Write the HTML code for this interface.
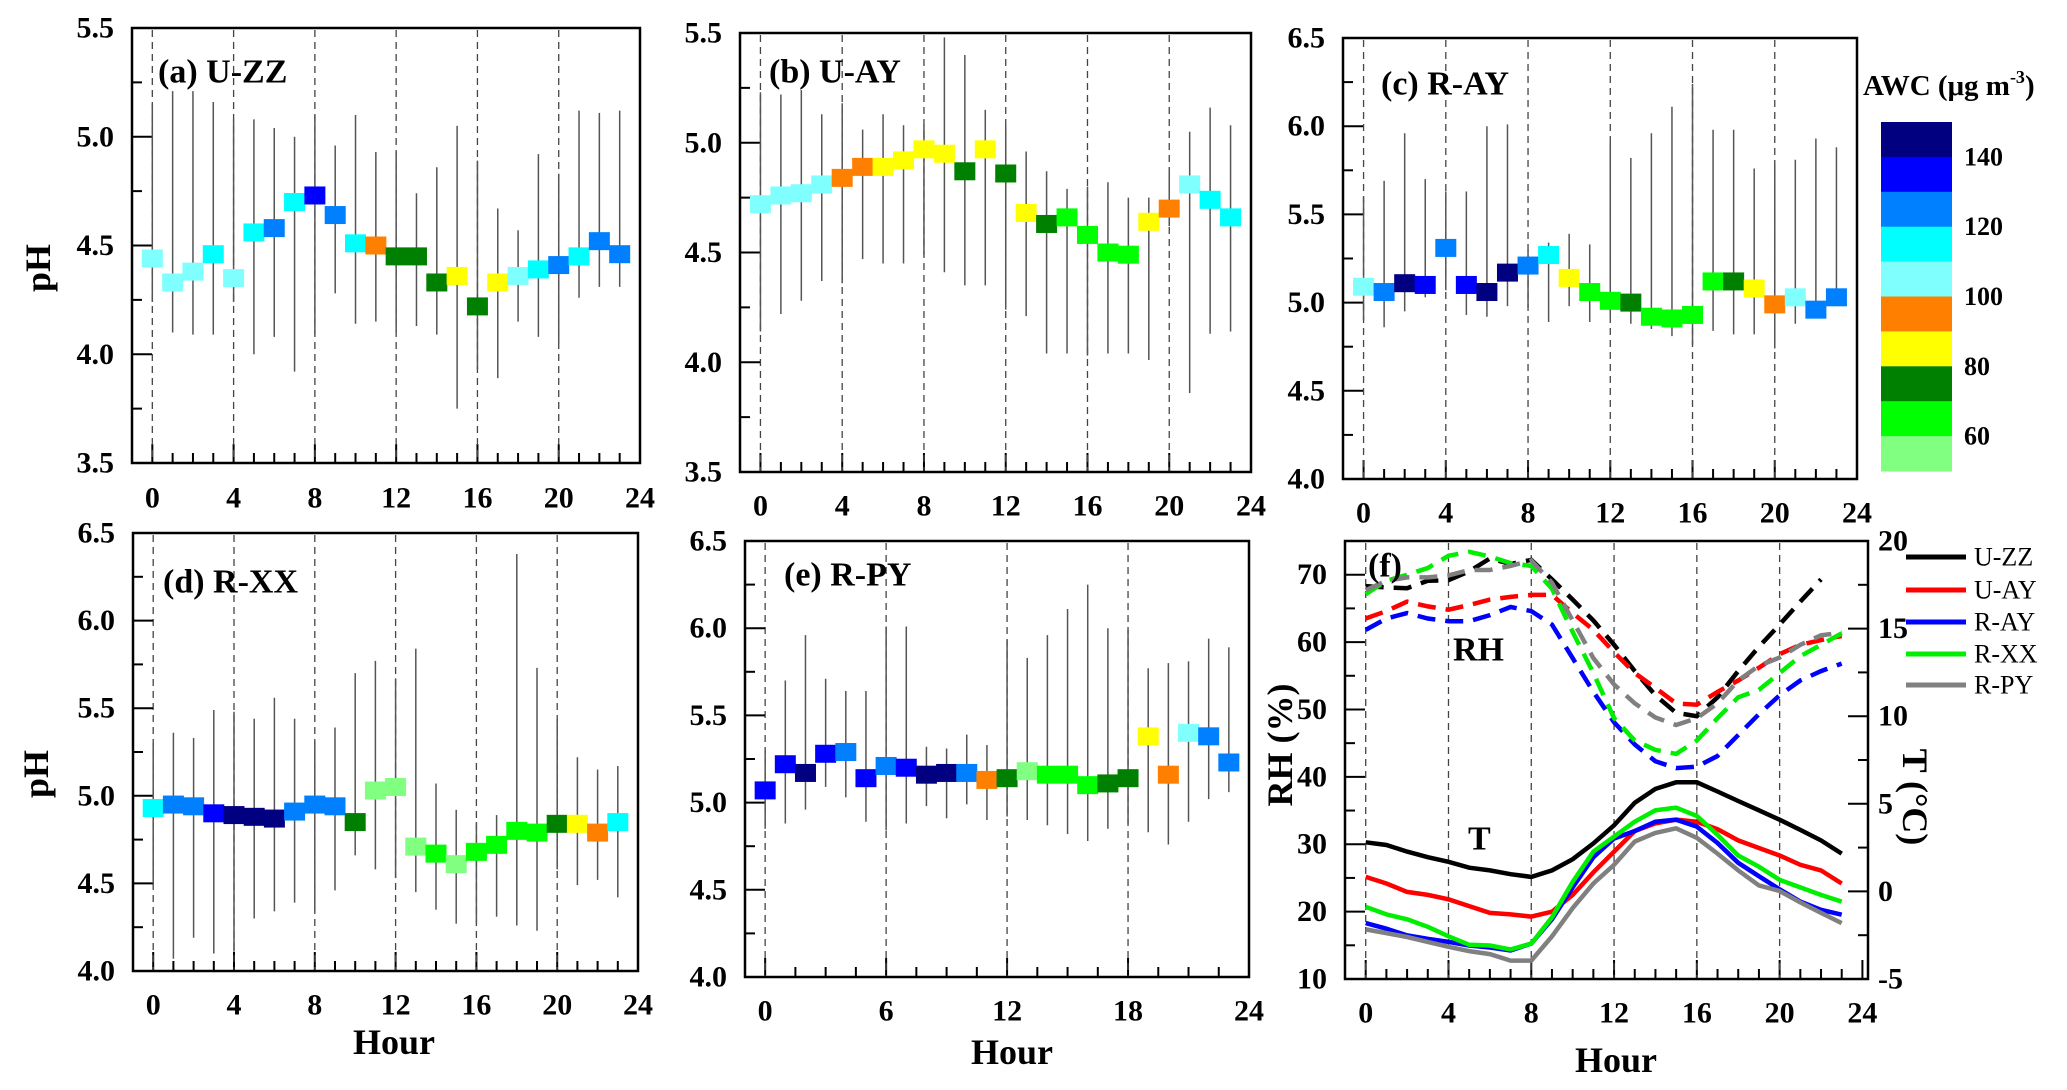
<!DOCTYPE html>
<html><head><meta charset="utf-8">
<style>
html,body{margin:0;padding:0;background:#fff;}
svg{display:block;font-family:"Liberation Serif",serif;}
</style></head>
<body>
<svg id="fig" width="2067" height="1090" viewBox="0 0 2067 1090" xmlns="http://www.w3.org/2000/svg"></svg>
<script>
// ---------- data ----------
const hours = [0,1,2,3,4,5,6,7,8,9,10,11,12,13,14,15,16,17,18,19,20,21,22,23];
const awcColors = ['#000080','#0000ff','#0080ff','#00ffff','#80ffff','#ff8000','#ffff00','#008000','#00ff00','#80ff80'];
const awcLabels = ['140','120','100','80','60'];

const phA = [4.44,4.33,4.38,4.46,4.35,4.56,4.58,4.70,4.73,4.64,4.51,4.50,4.45,4.45,4.33,4.36,4.22,4.33,4.36,4.39,4.41,4.45,4.52,4.46];
const hiA = [5.15,5.21,5.21,5.16,5.08,5.08,5.04,5.00,5.10,4.96,5.10,4.93,4.93,4.74,4.86,5.05,4.89,4.67,4.57,4.92,4.83,5.12,5.11,5.12];
const loA = [4.24,4.10,4.09,4.09,4.24,4.00,4.08,3.92,4.09,4.28,4.14,4.15,4.10,4.13,4.09,3.75,3.93,3.89,4.15,4.08,4.05,4.26,4.31,4.31];
const colA = [4,4,4,3,4,3,2,3,1,2,3,5,7,7,7,6,7,6,4,3,2,3,2,2];

const phB = [4.72,4.76,4.77,4.81,4.84,4.89,4.89,4.92,4.97,4.95,4.87,4.97,4.86,4.68,4.63,4.66,4.58,4.50,4.49,4.64,4.70,4.81,4.74,4.66];
const hiB = [5.23,5.22,5.24,5.13,5.18,5.06,5.13,5.08,5.08,5.48,5.40,5.15,5.08,4.96,4.87,4.79,4.80,4.82,4.75,4.75,4.88,5.05,5.16,5.08];
const loB = [4.14,4.22,4.28,4.37,4.36,4.47,4.45,4.45,4.49,4.41,4.35,4.35,4.24,4.21,4.04,4.04,4.03,4.04,4.04,4.01,4.62,3.86,4.13,4.14];
const colB = [4,4,4,4,5,5,6,6,6,6,7,6,7,6,7,8,8,8,8,6,5,4,3,3];

const phC = [5.09,5.06,5.11,5.10,5.31,5.10,5.06,5.17,5.21,5.27,5.14,5.06,5.01,5.00,4.92,4.91,4.93,5.12,5.12,5.08,4.99,5.03,4.96,5.03];
const hiC = [5.60,5.69,5.96,5.70,5.63,5.63,6.00,6.01,5.30,5.34,5.39,5.33,5.91,5.82,5.96,6.11,6.24,5.98,5.98,5.76,5.79,5.81,5.93,5.88];
const loC = [4.90,4.86,4.95,5.03,5.07,4.93,4.92,4.98,4.97,4.89,4.98,4.89,4.92,4.88,4.85,4.81,4.76,4.84,4.82,4.82,4.74,4.88,4.95,4.99];
const colC = [4,2,0,1,2,1,0,0,2,3,6,8,8,7,8,8,8,8,7,6,5,4,2,2];

const phD = [4.93,4.95,4.94,4.90,4.89,4.88,4.87,4.91,4.95,4.94,4.85,5.03,5.05,4.71,4.67,4.61,4.68,4.72,4.80,4.79,4.84,4.84,4.79,4.85];
const hiD = [5.30,5.36,5.33,5.49,5.48,5.44,5.56,5.44,5.31,5.39,5.70,5.77,5.67,5.84,5.07,4.92,4.85,4.89,6.38,5.73,5.44,5.22,5.15,5.17];
const loD = [4.50,4.07,4.19,4.10,4.11,4.30,4.34,4.39,4.34,4.46,4.66,4.58,4.53,4.45,4.35,4.27,4.27,4.31,4.26,4.23,4.58,4.49,4.52,4.42];
const colD = [3,2,2,1,0,0,0,2,2,2,7,9,9,9,8,9,8,8,8,8,7,6,5,3];

const phE = [5.07,5.22,5.17,5.28,5.29,5.14,5.21,5.20,5.16,5.17,5.17,5.13,5.14,5.18,5.16,5.16,5.10,5.11,5.14,5.38,5.16,5.40,5.38,5.23];
const hiE = [5.30,5.70,5.96,5.71,5.64,5.64,6.01,6.01,5.32,5.31,5.39,5.33,5.93,5.83,5.96,6.11,6.25,6.00,5.99,5.77,5.80,5.81,5.94,5.89];
const loE = [4.85,4.88,4.96,5.09,5.03,4.89,4.84,4.88,4.98,4.91,4.99,4.90,4.92,4.90,4.87,4.82,4.78,4.85,4.88,4.83,4.76,4.89,5.02,5.06];
const colE = [1,1,0,1,2,1,2,1,0,0,2,5,7,9,8,8,8,7,7,6,5,4,2,2];

const siteNames = ['U-ZZ','U-AY','R-AY','R-XX','R-PY'];
const siteColors = ['#000000','#ff0000','#0000ff','#00ee00','#808080'];
const tZZ = [2.80,2.65,2.27,1.95,1.69,1.35,1.20,0.98,0.83,1.20,1.84,2.74,3.77,5.06,5.85,6.23,6.23,5.70,5.16,4.63,4.09,3.51,2.91,2.16];
const tAY = [0.83,0.45,-0.03,-0.20,-0.45,-0.84,-1.23,-1.31,-1.44,-1.16,-0.20,1.09,2.27,3.45,3.88,4.09,3.98,3.55,2.91,2.48,2.05,1.52,1.20,0.45];
const tRAY = [-1.81,-2.13,-2.51,-2.71,-2.88,-3.09,-3.20,-3.37,-2.98,-1.59,0.23,1.95,3.02,3.45,3.98,4.09,3.70,2.76,1.63,0.87,0.12,-0.58,-1.05,-1.33];
const tRXX = [-0.88,-1.31,-1.59,-2.02,-2.56,-3.05,-3.09,-3.31,-2.98,-1.48,0.55,2.27,3.13,3.98,4.63,4.78,4.31,3.23,2.05,1.41,0.66,0.23,-0.20,-0.58];
const tRPY = [-2.17,-2.38,-2.60,-2.88,-3.16,-3.41,-3.58,-3.95,-3.95,-2.56,-0.95,0.45,1.52,2.85,3.34,3.60,3.06,2.16,1.20,0.34,0.02,-0.63,-1.23,-1.81];
const rhZZ = [68.3,68.1,68.0,69.1,69.2,70.5,72.4,71.6,72.2,69.3,66.3,63.2,59.6,55.7,52.1,49.5,49.0,51.8,55.7,59.3,62.6,66.0,69.3,null];
const rhAY = [63.5,64.6,66.0,65.3,64.8,65.5,66.3,66.7,67.0,67.0,64.3,61.8,58.5,55.4,53.2,50.9,50.7,52.6,54.3,56.2,58.2,59.6,60.3,60.9];
const rhRAY = [61.8,63.5,64.3,63.5,63.1,63.1,64.0,65.2,64.6,62.6,57.6,52.6,48.1,44.8,42.3,41.3,41.5,43.1,46.2,49.3,52.1,54.3,55.7,56.8];
const rhRXX = [67.1,69.1,70.0,71.0,72.8,73.4,72.7,71.7,71.3,67.9,61.5,55.4,48.7,45.4,44.0,43.4,45.4,48.7,51.8,52.9,55.4,57.9,59.6,61.3];
const rhRPY = [67.7,69.1,69.6,69.6,69.9,70.7,70.7,71.3,72.1,68.8,63.2,57.6,53.7,50.9,48.8,47.7,48.7,50.9,54.3,56.5,57.7,59.6,61.0,61.4];

// ---------- helpers ----------
const svg = document.getElementById('fig');
const NS = 'http://www.w3.org/2000/svg';
function mk(tag, attrs, parent){
  const e = document.createElementNS(NS, tag);
  for (const k in attrs) e.setAttribute(k, attrs[k]);
  (parent||svg).appendChild(e);
  return e;
}
function txt(s, x, y, size, opts, parent){
  const t = mk('text', Object.assign({x:x, y:y, 'font-size':size, 'font-weight':'bold', fill:'#000'}, opts||{}), parent);
  t.textContent = s;
  return t;
}
function scale(d0,d1,r0,r1){ return v => r0 + (v-d0)/(d1-d0)*(r1-r0); }

function frame(g, P){
  mk('rect',{x:P.L,y:P.T,width:P.R-P.L,height:P.B-P.T,fill:'none',stroke:'#000','stroke-width':2.5},g);
}
function xAxis(g, P, xs, major, minor, dashed, labY){
  for (let h=0; h<=24.001; h+=minor){
    const isMaj = Math.abs(h/major - Math.round(h/major))<1e-6;
    const x = xs(h);
    if (x > P.R-1) continue;
    mk('line',{x1:x,x2:x,y1:P.B,y2:P.B-(isMaj?19:10),stroke:'#000','stroke-width':2},g);
  }
  for (let h=0; h<=24; h+=major){
    const x = xs(h);
    const t = txt(String(h), x, labY, 30, {'text-anchor':'middle','dominant-baseline':'central'}, g);
    
    
  }
  dashed.forEach(h=>{
    const dl = mk('line',{x1:xs(h),x2:xs(h),y1:P.T+2,y2:P.B,stroke:'#444','stroke-width':1.3,'stroke-dasharray':'7,5'},g);
    
    
  });
}
function yAxis(g, P, ys, d0, d1, major, minor, fmt, side){
  for (let v=d0; v<=d1+1e-6; v+=minor){
    const isMaj = Math.abs((v-d0)/major - Math.round((v-d0)/major))<1e-6;
    const y = ys(v);
    if (side==='right') mk('line',{x1:P.R,x2:P.R-(isMaj?20:10),y1:y,y2:y,stroke:'#000','stroke-width':2},g);
    else mk('line',{x1:P.L,x2:P.L+(isMaj?20:10),y1:y,y2:y,stroke:'#000','stroke-width':2},g);
  }
  for (let v=d0; v<=d1+1e-6; v+=major){
    const y = ys(v);
    const t = side==='right'
      ? txt(fmt(v), P.R+10, y, 30, {'text-anchor':'start','dominant-baseline':'central'}, g)
      : txt(fmt(v), P.L-18, y, 30, {'text-anchor':'end','dominant-baseline':'central'}, g);
    
    
  }
}

function phPanel(id, P, ph, hi, lo, col, label, labPos, major, labY, hourTitle, pHTitle){
  const g = mk('g',{});
  
  
  const xs = scale(-1,24,P.L,P.R);
  const ys = scale(P.d0,P.d1,P.B,P.T);
  const dashed = [];
  for (let h=0; h<24; h+=major) dashed.push(h);
  xAxis(g,P,xs,major,major===6?1.5:1,dashed,labY);
  yAxis(g,P,ys,P.d0,P.d1,0.5,0.25,v=>v.toFixed(1),'left');
  hours.forEach((h,i)=>{
    const eb = mk('line',{x1:xs(h),x2:xs(h),y1:ys(hi[i]),y2:ys(lo[i]),stroke:'#555','stroke-width':1.5},g);
    
    
  });
  hours.forEach((h,i)=>{
    const r = mk('rect',{x:xs(h)-10.5,y:ys(ph[i])-9,width:21,height:18,fill:awcColors[col[i]]},g);
    
    
  });
  frame(g,P);
  const pl = txt(label, labPos[0], labPos[1], 34, {'dominant-baseline':'central'}, g);
  
  
  if (hourTitle){
    const ht = txt('Hour', hourTitle[0], hourTitle[1], 36, {'text-anchor':'middle','dominant-baseline':'central'}, g);
    
    
  }
  if (pHTitle){
    const pt = txt('pH', 0, 0, 36, {'text-anchor':'middle','dominant-baseline':'central',transform:'translate('+pHTitle[0]+','+pHTitle[1]+') rotate(-90)'}, g);
    
    
  }
}

phPanel('a',{L:132,R:640,T:28,B:463,d0:3.5,d1:5.5},phA,hiA,loA,colA,'(a) U-ZZ',[158,72],4,498,null,[38,268]);
phPanel('b',{L:740,R:1251,T:33,B:472,d0:3.5,d1:5.5},phB,hiB,loB,colB,'(b) U-AY',[769,72],4,506,null,null);
phPanel('c',{L:1343,R:1857,T:38,B:479,d0:4.0,d1:6.5},phC,hiC,loC,colC,'(c) R-AY',[1381,84],4,513,null,null);
phPanel('d',{L:133,R:638,T:533,B:971,d0:4.0,d1:6.5},phD,hiD,loD,colD,'(d) R-XX',[163,582],4,1005,[394,1042],[36,774]);
phPanel('e',{L:745,R:1249,T:541,B:977,d0:4.0,d1:6.5},phE,hiE,loE,colE,'(e) R-PY',[784,575],6,1011,[1012,1052],null);

// ---------- colorbar ----------
(function(){
  const g = mk('g',{});
  
  
  const x0=1881, w=71, y0=122, y1=471, bh=(y1-y0)/awcColors.length;
  awcColors.forEach((c,i)=>{
    const r = mk('rect',{x:x0,y:y0+i*bh,width:w,height:bh+0.5,fill:c},g);
    
    
  });
  awcLabels.forEach((s,i)=>{
    const t = txt(s, 1964, y0+(2*i+1)*bh, 26, {'dominant-baseline':'central'}, g);
    
    
  });
  const t = mk('text',{x:1863,y:95,'font-size':29,'font-weight':'bold'},g);
  
  
  t.innerHTML = 'AWC (μg m<tspan dy="-12" font-size="18">-3</tspan><tspan dy="12">)</tspan>';
})();

// ---------- panel f ----------
(function(){
  const P = {L:1345,R:1868,T:541,B:979};
  const g = mk('g',{});
  
  
  const xs = scale(-1,24.27,P.L,P.R);
  const yRH = scale(10,75,P.B,P.T);
  const yT = scale(-5,20,P.B,P.T);
  xAxis(g,P,xs,4,1,[0,4,8,12,16,20],1013);
  yAxis(g,P,yRH,10,70,10,5,v=>String(v),'left');
  yAxis(g,P,yT,-5,20,5,2.5,v=>String(v),'right');
  const rhs=[rhZZ,rhAY,rhRAY,rhRXX,rhRPY], ts=[tZZ,tAY,tRAY,tRXX,tRPY];
  rhs.forEach((arr,k)=>{
    const pts = hours.filter((h,i)=>arr[i]!==null).map(h=>xs(h).toFixed(1)+','+yRH(arr[h]).toFixed(1)).join(' ');
    const pl = mk('polyline',{points:pts,fill:'none',stroke:siteColors[k],'stroke-width':4.5,'stroke-dasharray':'18,10'},g);
    
    
  });
  ts.forEach((arr,k)=>{
    const pts = hours.map(h=>xs(h).toFixed(1)+','+yT(arr[h]).toFixed(1)).join(' ');
    const pl = mk('polyline',{points:pts,fill:'none',stroke:siteColors[k],'stroke-width':4.5},g);
    
    
  });
  frame(g,P);
  const fl = txt('(f)', 1368, 566, 34, {'dominant-baseline':'central'}, g);
  
  
  const rl = txt('RH', 1453, 650, 34, {'dominant-baseline':'central'}, g);
  
  
  const tl = txt('T', 1468, 839, 34, {'dominant-baseline':'central'}, g);
  
  
  const ht = txt('Hour', 1616, 1060, 36, {'text-anchor':'middle','dominant-baseline':'central'}, g);
  
  
  const ry = txt('RH (%)', 0, 0, 36, {'text-anchor':'middle','dominant-baseline':'central',transform:'translate(1280,745) rotate(-90)'}, g);
  
  
  const ty = txt('T (°C)', 0, 0, 36, {'text-anchor':'middle','dominant-baseline':'central',transform:'translate(1915,797) rotate(90)'}, g);
  
  
  const lg = mk('g',{},g);
  
  
  const ly = [557,590,622,654,685];
  siteNames.forEach((s,k)=>{
    const ln = mk('line',{x1:1906,x2:1966,y1:ly[k],y2:ly[k],stroke:siteColors[k],'stroke-width':5},lg);
    
    
    const t = txt(s, 1974, ly[k], 26, {'font-weight':'normal','dominant-baseline':'central'}, lg);
    
    
  });
})();
</script>
</body></html>
